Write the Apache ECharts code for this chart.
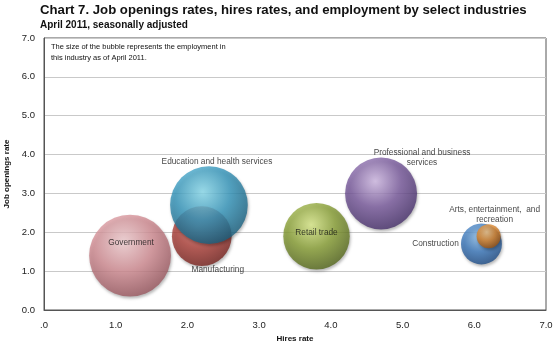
<!DOCTYPE html>
<html><head><meta charset="utf-8">
<script src="https://cdn.jsdelivr.net/npm/echarts@6/dist/echarts.min.js"></script>
<style>html,body{margin:0;padding:0;background:#fff}#c{width:560px;height:349px}</style>
</head><body><div id="c"></div>
<script>
const industries = ["Government","Manufacturing","Education and health services","Retail trade","Professional and business\nservices","Construction","Arts, entertainment,  and\nrecreation"];
const hiresRate = [1.2, 2.2, 2.3, 3.8, 4.7, 6.1, 6.2];
const openingsRate = [1.4, 1.9, 2.7, 1.9, 3.0, 1.7, 1.9];
const employment = [22000, 11700, 19800, 14500, 17000, 5500, 1900];
const xTicks = [".0","1.0","2.0","3.0","4.0","5.0","6.0","7.0"];

// styling
const palette = [
  ["#f6d3d6","#d58f96","#94525a"],
  ["#e07a72","#b0433c","#72201c"],
  ["#8fe0f2","#3799bf","#175a78"],
  ["#dcec8a","#8ba237","#50621a"],
  ["#d4bde8","#7b5c9f","#422c66"],
  ["#8fc0ec","#3c79bd","#1c4880"],
  ["#f7c686","#e0892e","#954e0e"]
];
const labelOffsets = [[1,-13],[16,34],[8,-43],[0,-3],[41,-36],[-46,0],[6,-21]];

const data = industries.map((name,i)=>({
  name: name,
  value: [hiresRate[i], openingsRate[i], employment[i]],
  itemStyle: {
    color: {type:'radial', x:0.42, y:0.33, r:0.72, colorStops:[
      {offset:0,color:palette[i][0]},{offset:0.5,color:palette[i][1]},{offset:1,color:palette[i][2]}]},
    shadowBlur: 3, shadowColor: 'rgba(0,0,0,0.35)', shadowOffsetX:1, shadowOffsetY:2
  }
}));

const chart = echarts.init(document.getElementById('c'));
chart.setOption({
  animation:false,
  title:[{
    text:"Chart 7. Job openings rates, hires rates, and employment by select industries",
    left:40, top:4, padding:0,
    textStyle:{fontFamily:"Liberation Sans",fontWeight:'bold',fontSize:13.2,color:'#111'}
  },{
    text:"April 2011, seasonally adjusted",
    left:40, top:20, padding:0,
    textStyle:{fontFamily:"Liberation Sans",fontWeight:'bold',fontSize:10,color:'#111'}
  },{
    text:"The size of the bubble represents the employment in\nthis industry as of April 2011.",
    left:51, top:41, padding:0,
    textStyle:{fontFamily:"Liberation Sans",fontWeight:'normal',fontSize:7.5,color:'#111',lineHeight:11}
  }],
  grid:{left:44,right:14,top:38,bottom:39,show:true,borderColor:'#555',borderWidth:1,
    containLabel:false,outerBoundsMode:'none'},
  xAxis:{type:'value',min:0,max:7,interval:1,
    name:'Hires rate',nameLocation:'middle',nameGap:25,
    nameTextStyle:{fontFamily:"Liberation Sans",fontWeight:'bold',fontSize:8,color:'#111'},
    axisLine:{lineStyle:{color:'#555'}},axisTick:{show:false},splitLine:{show:false},
    axisLabel:{fontFamily:"Liberation Sans",fontSize:9.5,color:'#222',margin:10,
      formatter:(v)=>xTicks[Math.round(v)]}
  },
  yAxis:{type:'value',min:0,max:7,interval:1,
    name:'Job openings rate',nameLocation:'middle',nameGap:30,nameRotate:90,
    nameTextStyle:{fontFamily:"Liberation Sans",fontWeight:'bold',fontSize:8,color:'#111'},
    axisLine:{show:true,lineStyle:{color:'#555'}},axisTick:{show:false},
    splitLine:{lineStyle:{color:'#c9c9c9'}},
    axisLabel:{fontFamily:"Liberation Sans",fontSize:9.5,color:'#222',margin:9,
      formatter:(v)=>v.toFixed(1)}
  },
  series:[{
    type:'scatter',
    data:data,
    symbolSize:(v)=>0.552*Math.sqrt(v[2]),
    label:{show:true,position:'inside',formatter:'{b}',
      fontFamily:"Liberation Sans",fontSize:8.3,color:'#111',lineHeight:10,
      textBorderWidth:0},
    labelLayout:(p)=>({dx:labelOffsets[p.dataIndex][0],dy:labelOffsets[p.dataIndex][1],hideOverlap:false})
  }]
});
</script></body></html>
